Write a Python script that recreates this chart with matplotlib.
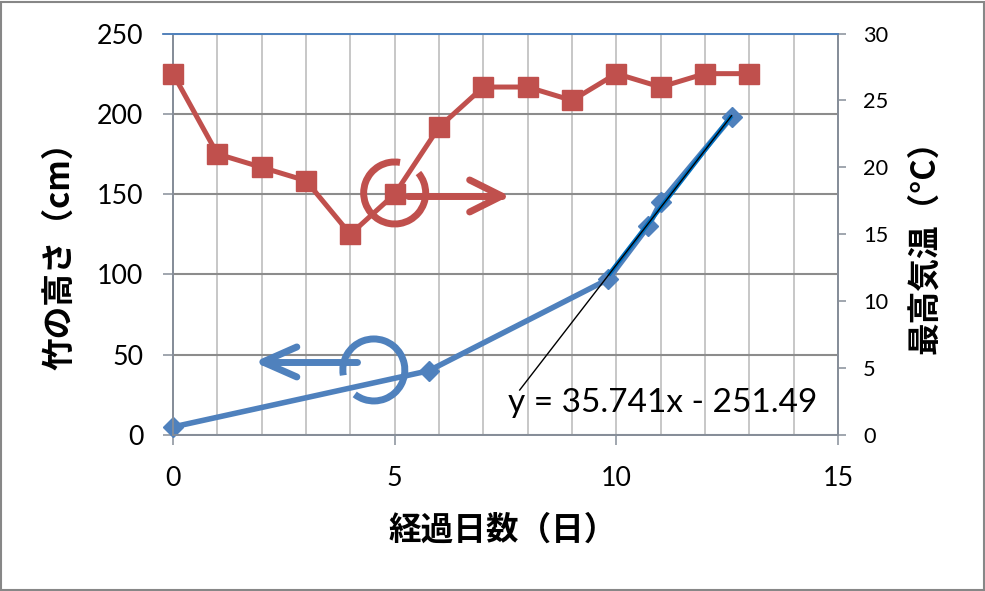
import matplotlib
matplotlib.use("Agg")
import matplotlib.pyplot as plt
import numpy as np
from matplotlib import transforms
from matplotlib.patches import Arc, Rectangle
from matplotlib.lines import Line2D

# ---------------- data ----------------
temp_days = list(range(14))
temp_values = [27, 21, 20, 19, 15, 18, 23, 26, 26, 25, 27, 26, 27, 27]

height_days = [0, 5.77, 9.82, 10.72, 11.0, 12.6]
height_values = [5, 40, 97, 130, 145, 198]

trend_slope = 35.741
trend_intercept = -251.49
trend_first_index = 2          # trendline fitted on points from index 2 on
trend_backward = 2.0           # backward forecast (days)
trend_label = "y = 35.741x - 251.49"

x_ticks = [0, 5, 10, 15]
left_ticks = [0, 50, 100, 150, 200, 250]
right_ticks = [0, 5, 10, 15, 20, 25, 30]

xlabel = "経過日数（日）"
ylabel_left = "竹の高さ（cm）"
ylabel_right = "最高気温（°C）"

# ---------------- styles ----------------
BLUE = "#4F81BD"
RED = "#C0504D"
BRIGHT_BLUE = "#0070C0"
SPINE = "#868E99"
GRID_V = "#C3C3C3"
GRID_H = "#8C8C8C"
NUM_FONT = ["Lato", "DejaVu Sans"]
JP_FONT = ["Noto Sans CJK JP", "DejaVu Sans"]

W, H = 985, 591
fig = plt.figure(figsize=(W / 100, H / 100), dpi=100)

L, R, T, B = 173, 838, 33.5, 435
ax = fig.add_axes([L / W, 1 - B / H, (R - L) / W, (B - T) / H])
ax2 = ax.twinx()

ax.set_xlim(0, 15)
ax.set_ylim(0, 250)
ax2.set_ylim(0, 30)

# grid
ax.set_axisbelow(True)
ax.set_xticks(x_ticks)
ax.set_xticks(np.arange(0, 16, 1), minor=True)
ax.set_yticks(left_ticks)
ax2.set_yticks(right_ticks)
ax.grid(which="both", axis="x", color=GRID_V, lw=1.3)
ax.grid(which="major", axis="y", color=GRID_H, lw=1.5)

# spines
for a in (ax, ax2):
    for s in ("left", "bottom", "right"):
        a.spines[s].set_color(SPINE)
        a.spines[s].set_linewidth(1.3)
    a.spines["top"].set_color(BLUE)
    a.spines["top"].set_linewidth(1.3)

# ticks
ax.tick_params(axis="x", which="major", direction="out", length=7.5, width=1.1,
               color=SPINE, pad=15, labelsize=19.3)
ax.tick_params(axis="x", which="minor", length=0)
ax.tick_params(axis="y", direction="out", length=7.5, width=1.1, color=SPINE,
               pad=14, labelsize=19.3)
ax2.tick_params(axis="y", direction="out", length=6, width=1.1, color=SPINE,
                pad=12, labelsize=15.7)
for lab in ax.get_xticklabels() + ax.get_yticklabels() + ax2.get_yticklabels():
    lab.set_fontfamily(NUM_FONT)

# blue top line extends over the left tick area
fig.add_artist(Line2D([163 / W, L / W], [1 - T / H, 1 - T / H], color=BLUE, lw=1.3))

# ---------------- series ----------------
ax.plot(height_days, height_values, color=BLUE, lw=4.0, marker="D", ms=10,
        mfc=BLUE, mec=BLUE, zorder=3, clip_on=False)

fit_x0 = height_days[trend_first_index]
fit_x1 = height_days[-1]
bx = np.array([fit_x0, fit_x1])
ax.plot(bx, trend_slope * bx + trend_intercept, color=BRIGHT_BLUE, lw=3.2, zorder=4,
        solid_capstyle="butt")
tx = np.array([fit_x0 - trend_backward, fit_x1])
ax.plot(tx, trend_slope * tx + trend_intercept, color="black", lw=1.0, zorder=5)

ax2.plot(temp_days, temp_values, color=RED, lw=3.6, marker="s", ms=14.2,
         mfc=RED, mec=RED, zorder=3, clip_on=False)

# ---------------- circled-arrow symbols ----------------
def symbol(center, color, theta1, theta2, shaft, tip, arm):
    off = fig.dpi_scale_trans + transforms.ScaledTranslation(center[0], center[1], ax.transData)
    arc = Arc((0, 0), 0.62, 0.62, theta1=theta1, theta2=theta2, color=color,
              lw=5.0, transform=off, zorder=6)
    ax.add_patch(arc)
    ax.plot([shaft[0] / 100, tip[0] / 100], [shaft[1] / 100, tip[1] / 100], color=color,
            lw=5.0, transform=off, solid_capstyle="round", zorder=6)
    ax.plot([(tip[0] + arm[0]) / 100, tip[0] / 100, (tip[0] + arm[0]) / 100],
            [(tip[1] + arm[1]) / 100, tip[1] / 100, (tip[1] - arm[1]) / 100],
            color=color, lw=5.0, transform=off, solid_capstyle="round",
            solid_joinstyle="round", zorder=6)

# positions in left-axis data units, offsets in pixels
symbol((5.0, 150.7), RED, 80, 40, (13, -3), (107, -3), (-32, 16))
symbol((4.53, 40.5), BLUE, 232, 190, (-17, 8), (-111, 8), (34, 15))

# ---------------- texts ----------------
fig.text(508 / W, 1 - 411.7 / H, trend_label, fontsize=24, family=NUM_FONT,
         ha="left", va="baseline")
fig.text(503 / W, 1 - 530 / H, xlabel, fontsize=23.5, family=JP_FONT, weight="bold",
         ha="center", va="center")
fig.text(60 / W, 1 - 248 / H, ylabel_left, fontsize=23.5, family=JP_FONT, weight="bold",
         ha="center", va="center", rotation=90)
fig.text(925 / W, 1 - 239 / H, ylabel_right, fontsize=23.5, family=JP_FONT, weight="bold",
         ha="center", va="center", rotation=90)

# chart border
fig.add_artist(Rectangle((1 / W, 1 / H), (W - 2.5) / W, (H - 2.5) / H, fill=False,
                         edgecolor="#878787", lw=1.5, transform=fig.transFigure))

fig.savefig("out.png", dpi=100)
